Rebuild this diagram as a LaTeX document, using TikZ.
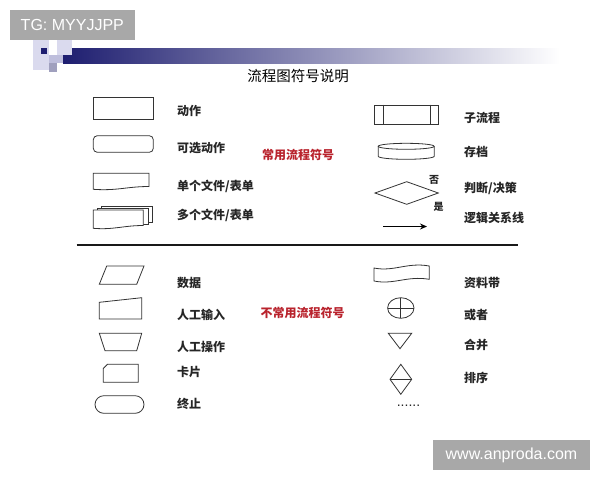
\documentclass[tikz,border=0pt]{standalone}
\usepackage{fontspec}
\setmainfont{Liberation Sans}
\newfontfamily\cjk{Noto Sans CJK SC}
\usetikzlibrary{arrows.meta}
\definecolor{navy}{RGB}{30,30,112}
\definecolor{lav}{RGB}{218,218,238}
\definecolor{lavm}{RGB}{190,190,220}
\definecolor{grsq}{RGB}{160,160,190}
\definecolor{wmgray}{RGB}{168,168,168}
\definecolor{redlbl}{RGB}{185,35,45}
\tikzset{
  shp/.style={draw=black!80, line width=0.8pt, fill=white},
  lbl/.style={anchor=west, inner sep=0pt, text=black!85, font=\cjk\bfseries\fontsize{12}{14}\selectfont},
  small/.style={inner sep=0pt, text=black!85, font=\cjk\bfseries\fontsize{10}{12}\selectfont},
  redtxt/.style={inner sep=0pt, text=redlbl, font=\cjk\bfseries\fontsize{12}{14}\selectfont}
}
\begin{document}
\begin{tikzpicture}[x=1pt,y=-1pt]
\useasboundingbox (0,0) rectangle (600,480);
\fill[white] (0,0) rectangle (600,480);
% decorative header
\shade[left color=navy, right color=white] (63,48) rectangle (560,63);
\fill[lav] (33,40) rectangle (49,70);
\fill[lav] (56.7,40) rectangle (71.7,55);
\fill[lavm] (49,55) rectangle (63,63);
\fill[navy] (40.7,47.7) rectangle (46.7,54.3);
\fill[grsq] (49.3,63.3) rectangle (56.7,71.7);
% watermark top-left
\fill[wmgray] (9.6,10) rectangle (135,39.5);
\node[text=white, inner sep=0pt, font=\fontsize{16}{18}\selectfont] (wm1) at (72.3,25) {TG: MYYJJPP};
% title
\node[inner sep=0pt, font=\cjk\fontsize{14.5}{16}\selectfont] (title) at (298,76.5) {流程图符号说明};

% ---------- common symbols, left ----------
\node[shp, minimum width=60, minimum height=21.7, inner sep=0pt] (act) at (123.3,108.2) {};
\node[lbl] (lact) at (177,110.5) {动作};
\node[shp, rounded corners=4pt, minimum width=60, minimum height=16.6, inner sep=0pt] (opt) at (123.3,144) {};
\node[lbl] (lopt) at (177,148) {可选动作};
\draw[shp] (93.3,173.3) -- (149,173.3) -- (149,186.5) .. controls (127,186.5) and (117,191) .. (93.3,189.3) -- cycle;
\node[lbl] (ldoc) at (177,186.5) {单个文件/表单};
\draw[shp] (101.7,206.7) -- (152.7,206.7) -- (152.7,222) -- (101.7,222) -- cycle;
\draw[shp] (97.5,208.4) -- (148.3,208.4) -- (148.3,224.5) -- (97.5,224.5) -- cycle;
\draw[shp] (93.3,210) -- (143.3,210) -- (143.3,225.5) .. controls (123,225.5) and (114,230) .. (93.3,228.3) -- cycle;
\node[lbl] (lmdoc) at (177,215) {多个文件/表单};
\node[redtxt] (common) at (298,154.5) {常用流程符号};

% ---------- common symbols, right ----------
\node[shp, minimum width=64.3, minimum height=19.3, inner sep=0pt] (sub) at (406.2,114.7) {};
\draw[black!80, line width=0.8pt] ([xshift=9.3pt]sub.north west) -- ([xshift=9.3pt]sub.south west);
\draw[black!80, line width=0.8pt] ([xshift=-8.3pt]sub.north east) -- ([xshift=-8.3pt]sub.south east);
\node[lbl] (lsub) at (464,118) {子流程};
\draw[shp] (378.2,146.3) -- (378.2,156.3) arc[start angle=180, end angle=360, x radius=28, y radius=-3] -- (434.2,146.3);
\draw[shp] (406.2,146.3) ellipse[x radius=28, y radius=3];
\node[lbl] (larc) at (464,151.7) {存档};
\draw[shp] (375,193) -- (406.7,181.7) -- (438.3,193) -- (406.7,204.3) -- cycle;
\node[small] (no) at (434,179.5) {否};
\node[small] (yes) at (438.5,206.5) {是};
\node[lbl] (ldec) at (464,188.3) {判断/决策};
\coordinate (a1) at (383.3,226.5);
\coordinate (a2) at (427,226.5);
\draw[black, line width=1.4pt, -{Stealth[length=7pt,width=6pt]}] (a1) -- (a2);
\node[lbl] (lline) at (464,217.7) {逻辑关系线};

% separator
\coordinate (s1) at (76.7,245);
\coordinate (s2) at (518.3,245);
\draw[black!90, line width=1.8pt] (s1) -- (s2);

% ---------- uncommon symbols, left ----------
\draw[shp] (106.7,266) -- (144,266) -- (136.7,284.3) -- (99.3,284.3) -- cycle;
\node[lbl] (ldata) at (177,283.3) {数据};
\draw[shp] (99.3,302.3) -- (141.7,297.7) -- (141.7,319) -- (99.3,319) -- cycle;
\node[lbl] (lin) at (177,315) {人工输入};
\draw[shp] (99.3,333.3) -- (141.7,333.3) -- (136.7,350.7) -- (105,350.7) -- cycle;
\node[lbl] (lop) at (177,346.7) {人工操作};
\draw[shp] (103.3,368.5) -- (107.5,364.3) -- (138.3,364.3) -- (138.3,382.3) -- (103.3,382.3) -- cycle;
\node[lbl] (lcard) at (177,372.3) {卡片};
\node[shp, rounded corners=8.8pt, minimum width=49, minimum height=17.6, inner sep=0pt] (term) at (119.5,404.5) {};
\node[lbl] (lterm) at (177,404) {终止};
\node[redtxt] (uncommon) at (302.5,312.5) {不常用流程符号};

% ---------- uncommon symbols, right ----------
\draw[shp] (374,268) .. controls (394,272) and (407,262) .. (429.3,266) -- (429.3,279.3) .. controls (407,275.5) and (394,285) .. (374,281) -- cycle;
\node[lbl] (ltape) at (464,283.3) {资料带};
\draw[shp] (400.8,308) ellipse[x radius=13.2, y radius=10.3];
\draw[black!80, line width=0.8pt] (387.6,308) -- (414,308) (400.8,297.7) -- (400.8,318.3);
\node[lbl] (lor) at (464,315) {或者};
\draw[shp] (388.3,333.3) -- (411.7,333.3) -- (400,348.7) -- cycle;
\node[lbl] (lmerge) at (464,345) {合并};
\draw[shp] (390,379.3) -- (400.8,364.3) -- (411.7,379.3) -- (400.8,394.3) -- cycle;
\draw[black!80, line width=0.8pt] (390,379.3) -- (411.7,379.3);
\node[lbl] (lsort) at (464,377.7) {排序};
\node[anchor=base, inner sep=0pt, text=black!85, font=\fontsize{14}{16}\selectfont] (dots) at (408.5,406.5) {......};

% watermark bottom-right
\fill[wmgray] (433,440) rectangle (590,469.5);
\node[text=white, inner sep=0pt, font=\fontsize{16}{18}\selectfont] (wm2) at (511.5,455) {www.anproda.com};
\end{tikzpicture}
\end{document}
